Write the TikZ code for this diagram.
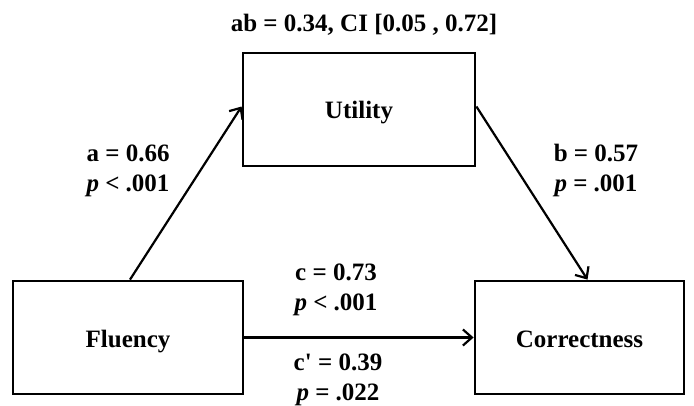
\documentclass[tikz,border=0pt]{standalone}
\usepackage{fontspec}
\setmainfont{Liberation Serif}
\usetikzlibrary{arrows.meta,calc}
\begin{document}
\begin{tikzpicture}[x=1pt,y=-1pt,
  box/.style={draw=black,line width=2.8pt,minimum width=#1,minimum height=113pt,inner sep=0pt,font=\fontsize{25}{30}\selectfont\bfseries},
  lbl/.style={anchor=base,inner sep=0pt,font=\fontsize{25}{30}\selectfont\bfseries},
  conn/.style={line width=2.2pt,-{Straight Barb[length=9pt,width=16pt,line width=2.2pt]}}]
\useasboundingbox (0,0) rectangle (694,405);
\node[box=230pt] (flu) at (128,337.5) {};
\node[box=232pt] (util) at (359,109.5) {};
\node[box=209pt] (corr) at (579.5,337.5) {};
\node[lbl] (tflu) at (128,347) {Fluency};
\node[lbl] (tutil) at (359,118) {Utility};
\node[lbl] (tcorr) at (579.5,347) {Correctness};
\draw[conn] ([xshift=2pt]flu.north) -- ([yshift=3pt]util.west);
\draw[conn] ([yshift=3pt]util.east) -- ([xshift=8pt]corr.north);
\draw[conn] (flu.east) -- (corr.west);
\node[lbl] (ab) at (364,31) {ab = 0.34, CI [0.05 , 0.72]};
\node[lbl] (a1) at (128,161) {a = 0.66};
\node[lbl] (a2) at (128,191) {\textit{p} < .001};
\node[lbl] (b1) at (596,161) {b = 0.57};
\node[lbl] (b2) at (596,191) {\textit{p} = .001};
\node[lbl] (c1) at (336,280) {c = 0.73};
\node[lbl] (c2) at (336,310) {\textit{p} < .001};
\node[lbl] (d1) at (338,370) {c\textquotesingle{} = 0.39};
\node[lbl] (d2) at (338,400) {\textit{p} = .022};
\end{tikzpicture}
\end{document}
